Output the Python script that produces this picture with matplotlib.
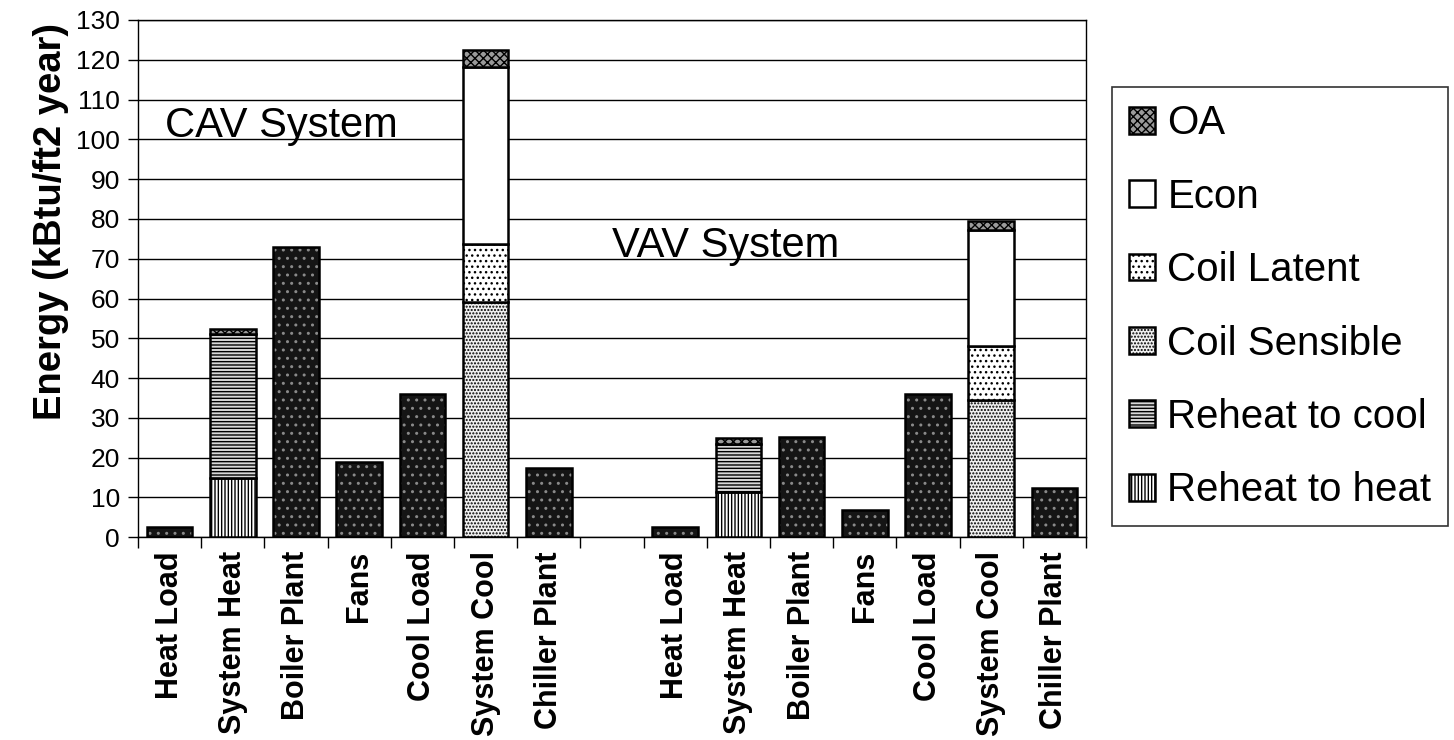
import matplotlib
matplotlib.use("Agg")
import matplotlib.pyplot as plt
import numpy as np

plt.rcParams['font.family'] = ['Liberation Sans', 'DejaVu Sans']
plt.rcParams['hatch.linewidth'] = 1.0

categories = ['Heat Load', 'System Heat', 'Boiler Plant', 'Fans', 'Cool Load', 'System Cool', 'Chiller Plant', '',
              'Heat Load', 'System Heat', 'Boiler Plant', 'Fans', 'Cool Load', 'System Cool', 'Chiller Plant']

# Single-value bars (no legend entry)
total = [2.6, 0, 72.9, 18.8, 36.1, 0, 17.3, 0,
         2.5, 0, 25.3, 6.9, 36.0, 0, 12.4]

reheat_to_heat = [0, 14.8, 0, 0, 0, 0, 0, 0, 0, 11.3, 0, 0, 0, 0, 0]
reheat_to_cool = [0, 36.2, 0, 0, 0, 0, 0, 0, 0, 12.2, 0, 0, 0, 0, 0]
coil_sensible = [0, 0, 0, 0, 0, 59.0, 0, 0, 0, 0, 0, 0, 0, 34.4, 0]
coil_latent = [0, 0, 0, 0, 0, 14.8, 0, 0, 0, 0, 0, 0, 0, 13.6, 0]
econ = [0, 0, 0, 0, 0, 44.5, 0, 0, 0, 0, 0, 0, 0, 29.3, 0]
oa = [0, 1.3, 0, 0, 0, 4.1, 0, 0, 0, 1.4, 0, 0, 0, 2.3, 0]

series_names = ['Reheat to heat', 'Reheat to cool', 'Coil Sensible', 'Coil Latent', 'Econ', 'OA']
series_vals = [reheat_to_heat, reheat_to_cool, coil_sensible, coil_latent, econ, oa]
styles = [
    dict(facecolor='white', hatch='|||||'),
    dict(facecolor='#d8d8d8', hatch='-----'),
    dict(facecolor='#f0f0f0', hatch='.....'),
    dict(facecolor='white', hatch='...'),
    dict(facecolor='white', hatch=''),
    dict(facecolor='#9a9a9a', hatch='xxxx'),
]

fig = plt.figure(figsize=(14.54, 7.4), dpi=100)
ax = fig.add_axes([0.0949, 0.274, 0.652, 0.699])

x = np.arange(len(categories))
w = 0.72

def masked(v):
    v = np.asarray(v, dtype=float)
    return np.where(v > 0, v, np.nan)

# Dark single bars
tv = masked(total)
ax.bar(x, tv, w, facecolor='#151515', edgecolor='#8a8a8a', hatch='..', linewidth=0, zorder=3)
ax.bar(x, tv, w, fill=False, edgecolor='black', linewidth=1.8, zorder=4)

bottom = np.zeros(len(categories))
handles = []
for name, vals, st in zip(series_names, series_vals, styles):
    v = np.array(vals, dtype=float)
    b = ax.bar(x, masked(v), w, bottom=bottom, edgecolor='black', linewidth=1.8, label=name, zorder=3, **st)
    handles.append(b)
    bottom += v

ax.set_xlim(-0.5, len(categories) - 0.5)
ax.set_ylim(0, 130)
ax.set_yticks(np.arange(0, 131, 10))
ax.yaxis.grid(True, color='black', linewidth=1.0, zorder=0)
ax.set_axisbelow(True)
ax.tick_params(axis='y', direction='out', length=7, width=1, labelsize=19, pad=6)

ax.set_xticks(np.arange(-0.5, len(categories), 1.0))
ax.set_xticklabels([])
ax.set_xticks(x, minor=True)
ax.set_xticklabels(categories, minor=True, rotation=90, fontsize=22, fontweight='bold')
ax.tick_params(axis='x', which='major', direction='out', length=8, width=1)
ax.tick_params(axis='x', which='minor', length=0, pad=10)

for s in ['left', 'bottom', 'right', 'top']:
    ax.spines[s].set_color('black')
    ax.spines[s].set_linewidth(1.0)

ax.set_ylabel('Energy (kBtu/ft2 year)', fontsize=27.5, fontweight='bold')
ax.yaxis.set_label_coords(-0.073, 0.611)

ax.text(-0.07, 100.5, 'CAV System', fontsize=30, va='baseline', ha='left', zorder=5)
ax.text(7.0, 70.5, 'VAV System', fontsize=30, va='baseline', ha='left', zorder=5)

leg = fig.legend(handles[::-1], series_names[::-1], loc='upper left',
                 bbox_to_anchor=(0.765, 0.882), bbox_transform=fig.transFigure,
                 fontsize=29, frameon=True, fancybox=False, shadow=False,
                 handlelength=0.65, handleheight=0.65, handletextpad=0.3,
                 labelspacing=0.88, borderpad=0.42, borderaxespad=0)
leg.get_frame().set_edgecolor('black')
leg.get_frame().set_linewidth(1.2)

fig.savefig('out.png', dpi=100)
